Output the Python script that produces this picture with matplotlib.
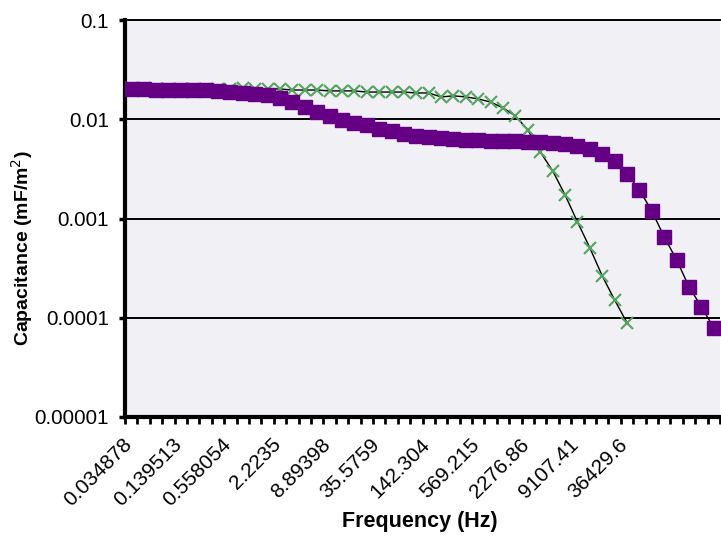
import numpy as np
import matplotlib
matplotlib.use("Agg")
import matplotlib.pyplot as plt
from matplotlib.ticker import FixedLocator, NullLocator

plt.rcParams['font.family'] = ['Liberation Sans', 'DejaVu Sans']

# frequency labels shown on the category axis (every 4th point)
freq_labels = ['0.034878', '0.139513', '0.558054', '2.2235', '8.89398', '35.5759',
               '142.304', '569.215', '2276.86', '9107.41', '36429.6']
label_step = 4

# capacitance (mF/m^2), one value per frequency point
purple_cap = [0.0202, 0.0202, 0.0197, 0.0197, 0.0197, 0.0197, 0.0197, 0.0193,
              0.0188, 0.0184, 0.0180, 0.0176, 0.0164, 0.0149, 0.0133, 0.0119,
              0.0108, 0.00984, 0.00918, 0.00877, 0.00798, 0.00762, 0.00711, 0.00679,
              0.00664, 0.00648, 0.00634, 0.00619, 0.00619, 0.00605, 0.00605, 0.00605,
              0.00591, 0.00591, 0.00577, 0.00564, 0.00538, 0.00502, 0.00448, 0.00380,
              0.00281, 0.00194, 0.00119, 0.000653, 0.000383, 0.000205, 0.000129, 0.0000791]
green_cap = [0.0205, 0.0205, 0.0204, 0.0204, 0.0204, 0.0203, 0.0203, 0.0202,
             0.0202, 0.0207, 0.0202, 0.0202, 0.0202, 0.0197, 0.0197, 0.0197,
             0.0193, 0.0193, 0.0193, 0.0188, 0.0188, 0.0188, 0.0188, 0.0184,
             0.0184, 0.0168, 0.0172, 0.0168, 0.0160, 0.0149, 0.0130, 0.0108,
             0.00780, 0.00469, 0.00302, 0.00173, 0.000924, 0.000506, 0.000264, 0.000151,
             0.0000889]

y_ticks = [0.00001, 0.0001, 0.001, 0.01, 0.1]
y_tick_labels = ['0.00001', '0.0001', '0.001', '0.01', '0.1']

n_cat = len(purple_cap)

fig = plt.figure(figsize=(7.21, 5.41), dpi=100)
# axes box in pixels: left 125, right 720, top 20, bottom 417
ax = fig.add_axes([125/721, 1 - 417/541, 595/721, 397/541])
ax.set_facecolor('#f0f0f5')

# gridlines at decades
for yv in y_ticks[1:-1]:
    ax.axhline(yv, color='black', lw=1.4, zorder=1)

x_green = np.arange(len(green_cap))
x_purple = np.arange(len(purple_cap))
ax.plot(x_green, green_cap, color='black', lw=1.0, marker='x', markersize=8.5,
        markeredgecolor='#55a35f', markeredgewidth=1.5, zorder=3)
ax.plot(x_purple, purple_cap, color='black', lw=1.0, marker='s', markersize=10,
        markerfacecolor='#650085', markeredgecolor='#650085', zorder=4)

ax.set_yscale('log')
ax.set_ylim(0.00001, 0.1)
ax.set_xlim(-0.5, n_cat - 0.5)

ax.yaxis.set_major_locator(FixedLocator(y_ticks))
ax.yaxis.set_minor_locator(NullLocator())
ax.set_yticklabels(y_tick_labels, fontsize=14.8)
ax.tick_params(axis='y', direction='out', length=4.5, width=2.5, pad=7)

# ticks between categories, labels on every 4th category
ax.xaxis.set_major_locator(FixedLocator(np.arange(n_cat + 1) - 0.5))
ax.set_xticklabels([])
ax.tick_params(axis='x', which='major', direction='out', length=5, width=2)
label_pos = np.arange(len(freq_labels)) * label_step
for pos, lab in zip(label_pos, freq_labels):
    ax.text(pos - 0.7, -0.045, lab, transform=ax.get_xaxis_transform(),
            rotation=45, ha='right', va='top', rotation_mode='anchor', fontsize=15)

for side in ['left', 'bottom']:
    ax.spines[side].set_linewidth(3)
ax.spines['top'].set_linewidth(1.4)
ax.spines['right'].set_visible(False)

fig.text(420/721, 1 - 522/541, 'Frequency (Hz)', ha='center', va='center',
         fontsize=15.5, fontweight='bold')
fig.text(22/721, 1 - 248/541, 'Capacitance (mF/m$^2$)', ha='center', va='center',
         rotation=90, fontsize=14, fontweight='bold')

fig.savefig('out.png', dpi=100)
